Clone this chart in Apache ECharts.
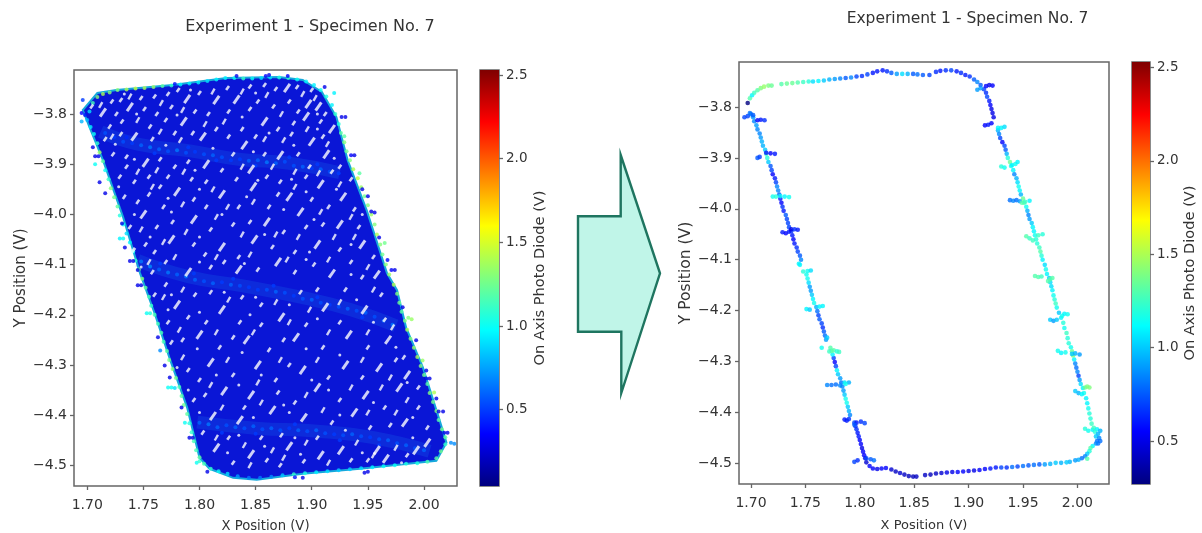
<!DOCTYPE html>
<html><head><meta charset="utf-8">
<style>html,body{margin:0;padding:0;background:#fff}#c{width:1202px;height:533px;filter:blur(0.55px)}</style>
<script src="https://cdn.jsdelivr.net/npm/echarts@6/dist/echarts.min.js"></script>
</head><body><div id="c"></div>
<script>
const chartTitle = 'Experiment 1 - Specimen No. 7';
const xName = 'X Position (V)', yName = 'Y Position (V)', cName = 'On Axis Photo Diode (V)';
const xTicks = [1.70,1.75,1.80,1.85,1.90,1.95,2.00];
const yTicks = [-3.8,-3.9,-4.0,-4.1,-4.2,-4.3,-4.4,-4.5];
const cTicksLeft = [0.5,1.0,1.5,2.0,2.5];
const cTicksRight = [0.5,1.0,1.5,2.0,2.5];
const jet = ['#00007f','#0000ff','#007fff','#00ffff','#7fff7f','#ffff00','#ff7f00','#ff0000','#7f0000'];

// Left panel: extent of the dense scan
const scanOutline = [[1.696,-3.792],[1.709,-3.758],[1.726,-3.752],[1.776,-3.742],[1.824,-3.728],[1.871,-3.726],[1.892,-3.732],[1.909,-3.756],[1.922,-3.806],[1.932,-3.892],[1.949,-3.992],[1.967,-4.117],[1.976,-4.151],[1.984,-4.225],[1.999,-4.305],[2.014,-4.411],[2.020,-4.455],[2.011,-4.491],[1.943,-4.507],[1.892,-4.517],[1.851,-4.529],[1.830,-4.525],[1.809,-4.507],[1.800,-4.485],[1.789,-4.385],[1.774,-4.291],[1.760,-4.197],[1.747,-4.117],[1.732,-4.006],[1.714,-3.892],[1.702,-3.826]];

const scanEdge = [[1.700,-3.812,.8],[1.702,-3.795,.9],[1.705,-3.778,1.15],[1.709,-3.766,1.3],[1.714,-3.760,1.4],[1.720,-3.757,1.3],[1.727,-3.752,1.3],[1.735,-3.751,1.4],[1.743,-3.749,1.45],[1.751,-3.748,1.4],[1.759,-3.746,1.35],[1.767,-3.744,1.2],[1.775,-3.743,1.1],[1.783,-3.741,.95],[1.791,-3.739,.95],[1.799,-3.737,.95],[1.807,-3.734,.9],[1.815,-3.731,.95],[1.823,-3.728,.95],[1.831,-3.728,1.0],[1.839,-3.729,1.1],[1.847,-3.729,1.0],[1.855,-3.728,.9],[1.863,-3.727,.9],[1.871,-3.727,1.05],[1.879,-3.728,1.1],[1.887,-3.731,1.0],[1.895,-3.735,.95],[1.902,-3.742,.95],[1.908,-3.752,1.0],[1.913,-3.765,1.05],[1.918,-3.782,.95],[1.921,-3.800,1.1],[1.924,-3.820,1.05],[1.926,-3.838,1.2],[1.929,-3.856,1.3],[1.931,-3.874,1.25],[1.934,-3.892,1.3],[1.937,-3.910,1.4],[1.941,-3.928,1.45],[1.944,-3.946,1.35],[1.947,-3.964,1.25],[1.950,-3.982,1.3],[1.953,-4.000,1.35],[1.956,-4.020,1.3],[1.958,-4.040,1.4],[1.961,-4.060,1.3],[1.963,-4.080,1.25],[1.966,-4.100,1.3],[1.969,-4.120,1.35],[1.973,-4.140,1.4],[1.976,-4.158,1.3],[1.978,-4.176,1.25],[1.980,-4.194,1.2],[1.983,-4.212,1.3],[1.985,-4.230,1.4],[1.988,-4.248,1.3],[1.991,-4.266,1.35],[1.994,-4.284,1.4],[1.997,-4.302,1.3],[2.000,-4.320,1.25],[2.003,-4.338,1.2],[2.005,-4.356,1.3],[2.008,-4.374,1.25],[2.011,-4.392,1.3],[2.013,-4.410,1.2],[2.016,-4.428,1.25],[2.019,-4.444,1.2],[2.019,-4.458,1.1],[2.015,-4.472,1.25],[2.011,-4.486,1.2],[2.003,-4.493,1.15],[1.994,-4.496,1.05],[1.984,-4.497,1.05],[1.974,-4.500,1.0],[1.964,-4.502,1.0],[1.954,-4.504,.95],[1.944,-4.506,.9],[1.934,-4.508,.85],[1.924,-4.510,.85],[1.914,-4.512,.9],[1.904,-4.514,.95],[1.894,-4.516,1.05],[1.884,-4.518,1.1],[1.874,-4.520,.85],[1.864,-4.523,.7],[1.854,-4.525,.65],[1.844,-4.525,.65],[1.834,-4.522,.75],[1.825,-4.517,.9],[1.817,-4.512,1.0],[1.810,-4.507,1.1],[1.804,-4.497,1.15],[1.800,-4.484,1.2],[1.797,-4.470,1.15],[1.795,-4.452,1.15],[1.793,-4.434,1.1],[1.791,-4.416,1.05],[1.789,-4.398,1.2],[1.786,-4.380,1.25],[1.784,-4.362,1.2],[1.782,-4.344,1.15],[1.779,-4.326,1.25],[1.776,-4.308,1.3],[1.773,-4.290,1.25],[1.771,-4.272,1.2],[1.768,-4.254,1.15],[1.766,-4.236,1.15],[1.763,-4.218,1.15],[1.760,-4.200,1.15],[1.757,-4.182,1.1],[1.755,-4.164,1.15],[1.752,-4.146,1.2],[1.749,-4.128,1.3],[1.746,-4.110,1.25],[1.743,-4.092,1.1],[1.741,-4.074,1.0],[1.738,-4.056,.95],[1.735,-4.038,.9],[1.732,-4.020,1.0],[1.729,-4.002,1.05],[1.727,-3.984,1.2],[1.724,-3.966,1.25],[1.721,-3.948,1.3],[1.719,-3.930,1.1],[1.716,-3.912,1.0],[1.714,-3.894,1.2],[1.711,-3.876,1.35],[1.709,-3.858,1.1],[1.706,-3.840,1.0],[1.703,-3.826,.95]];

const scanOutliers = [[1.9266,-3.806,.3],[1.930,-3.806,.3],[1.938,-3.882,.3],[1.935,-3.882,.35],[1.945,-3.950,.3],[1.950,-3.964,.3],[1.956,-3.996,.3],[1.953,-3.994,.3],[1.960,-4.046,.3],[1.9675,-4.091,.35],[1.974,-4.111,.3],[1.971,-4.111,.35],[1.929,-3.844,1.2],[1.9425,-3.918,1.2],[1.965,-4.057,1.25],[1.981,-4.185,.3],[1.989,-4.209,1.35],[1.986,-4.206,1.3],[1.993,-4.251,.3],[1.9987,-4.291,1.35],[2.002,-4.311,.3],[2.005,-4.327,.3],[2.002,-4.327,.3],[2.009,-4.355,1.4],[2.011,-4.367,.3],[2.017,-4.393,.3],[2.013,-4.393,.3],[2.021,-4.435,.3],[2.018,-4.435,.3],[2.027,-4.457,.7],[2.024,-4.455,.7],[1.833,-3.724,.3],[1.862,-3.722,.3],[1.859,-3.724,.35],[1.778,-3.740,.4],[1.696,-3.772,.5],[1.695,-3.798,.35],[1.698,-3.802,.4],[1.695,-3.815,.8],[1.8786,-3.724,.35],[1.9115,-3.746,.3],[1.920,-3.758,.95],[1.705,-3.866,.3],[1.707,-3.884,.3],[1.710,-3.884,.3],[1.707,-3.900,1.0],[1.711,-3.936,.3],[1.716,-3.958,.3],[1.731,-4.018,.3],[1.729,-4.048,.95],[1.732,-4.048,1.0],[1.7335,-4.066,.3],[1.738,-4.093,.3],[1.741,-4.093,.3],[1.745,-4.111,.3],[1.745,-4.141,.3],[1.748,-4.141,.3],[1.753,-4.197,1.0],[1.756,-4.197,1.05],[1.763,-4.245,.3],[1.765,-4.271,.7],[1.769,-4.301,.3],[1.7735,-4.325,.3],[1.772,-4.345,1.0],[1.775,-4.345,1.0],[1.778,-4.346,.9],[1.784,-4.385,.3],[1.787,-4.415,1.0],[1.791,-4.445,.3],[1.794,-4.445,.3],[1.7975,-4.495,1.0],[1.800,-4.492,1.1],[1.807,-4.513,.3],[1.947,-4.515,.3],[1.950,-4.513,.3],[1.892,-4.525,.3],[1.885,-4.524,.4]];

const scanBands = [[1.716,-3.838,.55],[1.724,-3.846,.5],[1.732,-3.855,.55],[1.740,-3.858,.5],[1.748,-3.862,.6],[1.756,-3.866,.65],[1.764,-3.870,.6],[1.772,-3.874,.55],[1.780,-3.872,.65],[1.788,-3.877,.55],[1.796,-3.875,.5],[1.804,-3.880,.55],[1.812,-3.882,.6],[1.820,-3.886,.55],[1.828,-3.892,.5],[1.836,-3.890,.5],[1.844,-3.893,.6],[1.852,-3.892,.6],[1.860,-3.896,.65],[1.868,-3.898,.6],[1.876,-3.895,.55],[1.884,-3.903,.55],[1.892,-3.905,.6],[1.900,-3.908,.5],[1.908,-3.910,.6],[1.916,-3.915,.55],[1.924,-3.918,.5],[1.735,-3.846,.45],[1.760,-3.878,.5],[1.790,-3.866,.5],[1.815,-3.892,.5],[1.850,-3.903,.5],[1.880,-3.886,.5],[1.905,-3.900,.5],
[1.748,-4.094,.65],[1.756,-4.104,.7],[1.764,-4.110,.6],[1.772,-4.116,.65],[1.780,-4.120,.6],[1.788,-4.124,.65],[1.796,-4.130,.6],[1.804,-4.133,.55],[1.812,-4.137,.6],[1.820,-4.135,.5],[1.828,-4.140,.6],[1.836,-4.142,.55],[1.844,-4.145,.5],[1.852,-4.150,.5],[1.860,-4.150,.55],[1.868,-4.154,.6],[1.876,-4.156,.55],[1.884,-4.162,.5],[1.892,-4.168,.55],[1.900,-4.170,.6],[1.908,-4.176,.55],[1.916,-4.180,.5],[1.924,-4.184,.55],[1.932,-4.188,.6],[1.940,-4.192,.55],[1.948,-4.196,.6],[1.956,-4.204,.55],[1.964,-4.212,.6],[1.972,-4.220,.65],[1.765,-4.098,.5],[1.795,-4.118,.5],[1.830,-4.128,.5],[1.866,-4.142,.5],[1.905,-4.165,.5],[1.945,-4.205,.5],
[1.800,-4.415,.6],[1.808,-4.418,.65],[1.816,-4.424,.6],[1.824,-4.420,.55],[1.832,-4.424,.6],[1.840,-4.426,.55],[1.848,-4.422,.6],[1.856,-4.428,.55],[1.864,-4.426,.6],[1.872,-4.430,.55],[1.880,-4.426,.5],[1.888,-4.430,.6],[1.896,-4.432,.55],[1.904,-4.430,.6],[1.912,-4.436,.55],[1.920,-4.438,.5],[1.928,-4.440,.55],[1.936,-4.438,.6],[1.944,-4.442,.55],[1.952,-4.444,.5],[1.960,-4.448,.55],[1.968,-4.450,.6],[1.976,-4.456,.55],[1.984,-4.460,.6],[1.992,-4.466,.55],[2.000,-4.470,.6],[1.820,-4.435,.5],[1.850,-4.437,.5],[1.885,-4.418,.5],[1.925,-4.450,.5],[1.960,-4.460,.5]];

const bandUpper = [[1.712,-3.835],[1.745,-3.860],[1.790,-3.873],[1.835,-3.890],[1.880,-3.898],[1.925,-3.917]];
const bandMiddle = [[1.745,-4.092],[1.790,-4.124],[1.840,-4.143],[1.890,-4.165],[1.935,-4.190],[1.975,-4.222]];
const bandLower = [[1.798,-4.414],[1.850,-4.426],[1.905,-4.432],[1.955,-4.445],[2.005,-4.472]];

const longFlecks = [[1.714,-3.797],[1.738,-3.786],[1.789,-3.770],[1.815,-3.772],[1.833,-3.771],[1.878,-3.748],[1.897,-3.780],[1.906,-3.785],[1.742,-3.845],[1.786,-3.815],[1.803,-3.845],[1.840,-3.862],[1.895,-3.805],[1.918,-3.830],[1.858,-3.815],[1.900,-3.855],[1.752,-3.897],[1.806,-3.900],[1.846,-3.910],[1.872,-3.882],[1.913,-3.880],[1.780,-3.955],[1.820,-3.960],[1.848,-3.945],[1.880,-3.965],[1.908,-3.940],[1.928,-3.965],[1.750,-4.000],[1.795,-4.010],[1.860,-4.015],[1.890,-3.995],[1.925,-4.020],[1.740,-4.075],[1.775,-4.050],[1.820,-4.065],[1.849,-4.050],[1.905,-4.060],[1.945,-4.060],[1.790,-4.115],[1.835,-4.110],[1.870,-4.095],[1.918,-4.118],[1.958,-4.120],[1.780,-4.180],[1.820,-4.190],[1.873,-4.205],[1.912,-4.185],[1.947,-4.190],[1.800,-4.240],[1.842,-4.250],[1.886,-4.245],[1.933,-4.240],[1.968,-4.250],[1.810,-4.295],[1.852,-4.300],[1.892,-4.310],[1.930,-4.300],[1.960,-4.305],[1.985,-4.320],[1.822,-4.352],[1.846,-4.360],[1.905,-4.345],[1.948,-4.360],[1.978,-4.345],[1.812,-4.402],[1.836,-4.410],[1.865,-4.390],[1.893,-4.405],[1.938,-4.395],[1.983,-4.415],[1.815,-4.465],[1.846,-4.478],[1.880,-4.462],[1.908,-4.480],[1.926,-4.470],[1.958,-4.470],[1.966,-4.487],[1.993,-4.470],[2.003,-4.455]];

const shortFlecks = [[1.704,-3.785],[1.722,-3.775],[1.730,-3.772],[1.748,-3.768],[1.760,-3.765],[1.772,-3.760],[1.781,-3.752],[1.800,-3.758],[1.825,-3.748],[1.845,-3.745],[1.858,-3.742],[1.868,-3.750],[1.887,-3.746],[1.900,-3.752],[1.726,-3.800],[1.731,-3.815],[1.720,-3.825],[1.751,-3.790],[1.762,-3.800],[1.775,-3.786],[1.770,-3.812],[1.796,-3.795],[1.808,-3.800],[1.826,-3.795],[1.845,-3.790],[1.852,-3.775],[1.866,-3.785],[1.880,-3.775],[1.888,-3.795],[1.912,-3.800],[1.908,-3.815],[1.716,-3.850],[1.730,-3.840],[1.756,-3.825],[1.758,-3.850],[1.778,-3.838],[1.794,-3.838],[1.815,-3.830],[1.826,-3.845],[1.838,-3.830],[1.850,-3.845],[1.870,-3.830],[1.882,-3.840],[1.884,-3.818],[1.910,-3.845],[1.723,-3.880],[1.735,-3.885],[1.735,-3.905],[1.765,-3.890],[1.778,-3.905],[1.790,-3.895],[1.820,-3.912],[1.830,-3.880],[1.858,-3.880],[1.888,-3.880],[1.898,-3.905],[1.925,-3.905],[1.729,-3.925],[1.742,-3.935],[1.755,-3.925],[1.765,-3.945],[1.772,-3.925],[1.793,-3.930],[1.806,-3.935],[1.833,-3.930],[1.860,-3.925],[1.872,-3.935],[1.895,-3.925],[1.918,-3.915],[1.935,-3.930],[1.733,-3.965],[1.745,-3.975],[1.755,-3.960],[1.768,-3.985],[1.795,-3.970],[1.806,-3.985],[1.835,-3.985],[1.862,-3.985],[1.870,-3.960],[1.900,-3.970],[1.915,-3.985],[1.938,-3.990],[1.738,-4.025],[1.762,-4.025],[1.776,-4.015],[1.810,-4.030],[1.830,-4.020],[1.845,-4.015],[1.875,-4.035],[1.895,-4.025],[1.910,-4.020],[1.942,-4.025],[1.752,-4.060],[1.760,-4.075],[1.795,-4.060],[1.805,-4.080],[1.835,-4.085],[1.865,-4.065],[1.885,-4.075],[1.925,-4.070],[1.955,-4.085],[1.758,-4.115],[1.770,-4.095],[1.810,-4.105],[1.822,-4.095],[1.852,-4.110],[1.885,-4.115],[1.902,-4.100],[1.935,-4.095],[1.945,-4.125],[1.760,-4.160],[1.770,-4.140],[1.796,-4.160],[1.810,-4.155],[1.838,-4.165],[1.855,-4.180],[1.890,-4.155],[1.905,-4.150],[1.930,-4.150],[1.962,-4.160],[1.772,-4.215],[1.790,-4.205],[1.806,-4.215],[1.836,-4.215],[1.855,-4.220],[1.895,-4.220],[1.925,-4.215],[1.965,-4.210],[1.775,-4.255],[1.785,-4.250],[1.818,-4.265],[1.830,-4.245],[1.862,-4.270],[1.875,-4.250],[1.910,-4.265],[1.950,-4.265],[1.982,-4.285],[1.790,-4.310],[1.800,-4.330],[1.830,-4.320],[1.868,-4.330],[1.880,-4.300],[1.915,-4.325],[1.945,-4.325],[1.975,-4.290],[1.995,-4.345],[1.795,-4.370],[1.805,-4.360],[1.840,-4.385],[1.870,-4.355],[1.885,-4.375],[1.925,-4.370],[1.965,-4.385],[1.995,-4.385],[1.803,-4.435],[1.826,-4.445],[1.855,-4.445],[1.873,-4.440],[1.905,-4.445],[1.918,-4.415],[1.952,-4.425],[1.970,-4.420],[2.003,-4.425],[1.830,-4.495],[1.860,-4.490],[1.872,-4.500],[1.893,-4.492],[1.935,-4.490],[1.950,-4.490],[1.985,-4.480]];

const midFlecks = [[1.712,-3.782],[1.738,-3.765],[1.766,-3.778],[1.785,-3.792],[1.812,-3.755],[1.838,-3.755],[1.860,-3.762],[1.873,-3.800],[1.892,-3.760],[1.903,-3.768],[1.722,-3.845],[1.745,-3.812],[1.765,-3.835],[1.783,-3.852],[1.805,-3.820],[1.822,-3.815],[1.858,-3.850],[1.875,-3.852],[1.896,-3.830],[1.914,-3.860],[1.745,-3.915],[1.762,-3.912],[1.786,-3.915],[1.812,-3.950],[1.838,-3.905],[1.865,-3.905],[1.885,-3.915],[1.906,-3.918],[1.925,-3.940],[1.758,-3.945],[1.785,-3.980],[1.825,-3.985],[1.848,-3.975],[1.885,-3.945],[1.908,-3.995],[1.935,-4.005],[1.748,-4.030],[1.768,-4.055],[1.788,-4.035],[1.815,-4.005],[1.838,-4.040],[1.868,-4.040],[1.888,-4.045],[1.920,-4.045],[1.938,-4.045],[1.755,-4.095],[1.778,-4.085],[1.815,-4.085],[1.845,-4.080],[1.878,-4.090],[1.915,-4.090],[1.950,-4.105],[1.768,-4.165],[1.785,-4.150],[1.826,-4.170],[1.868,-4.175],[1.898,-4.190],[1.925,-4.175],[1.955,-4.150],[1.782,-4.230],[1.815,-4.235],[1.848,-4.235],[1.880,-4.215],[1.915,-4.235],[1.950,-4.235],[1.972,-4.225],[1.785,-4.285],[1.825,-4.290],[1.872,-4.290],[1.905,-4.290],[1.945,-4.290],[1.970,-4.325],[1.810,-4.340],[1.852,-4.335],[1.895,-4.360],[1.935,-4.345],[1.962,-4.345],[1.985,-4.370],[1.820,-4.385],[1.855,-4.375],[1.910,-4.390],[1.950,-4.395],[1.975,-4.395],[1.815,-4.445],[1.840,-4.460],[1.865,-4.470],[1.895,-4.455],[1.940,-4.455],[1.975,-4.465],[1.845,-4.500],[1.875,-4.485],[1.915,-4.495],[1.955,-4.480]];

const roundFlecks = [[1.733,-3.760],[1.792,-3.752],[1.850,-3.758],[1.905,-3.800],[1.744,-3.800],[1.780,-3.802],[1.838,-3.806],[1.862,-3.838],[1.905,-3.830],[1.725,-3.860],[1.770,-3.862],[1.812,-3.868],[1.848,-3.875],[1.884,-3.862],[1.920,-3.888],[1.742,-3.890],[1.796,-3.912],[1.852,-3.932],[1.882,-3.930],[1.728,-3.945],[1.772,-3.968],[1.800,-3.950],[1.842,-3.965],[1.895,-3.955],[1.922,-3.950],[1.742,-4.000],[1.775,-3.995],[1.820,-4.000],[1.875,-3.990],[1.902,-4.010],[1.945,-4.000],[1.756,-4.045],[1.800,-4.045],[1.858,-4.040],[1.898,-4.075],[1.935,-4.060],[1.748,-4.105],[1.800,-4.095],[1.840,-4.098],[1.895,-4.090],[1.935,-4.120],[1.775,-4.160],[1.822,-4.155],[1.850,-4.165],[1.880,-4.180],[1.940,-4.170],[1.772,-4.190],[1.800,-4.195],[1.845,-4.200],[1.905,-4.208],[1.955,-4.215],[1.798,-4.268],[1.838,-4.275],[1.895,-4.268],[1.925,-4.280],[1.975,-4.265],[1.780,-4.305],[1.815,-4.320],[1.855,-4.320],[1.900,-4.330],[1.985,-4.335],[1.790,-4.350],[1.835,-4.340],[1.875,-4.380],[1.915,-4.350],[1.955,-4.375],[1.800,-4.395],[1.848,-4.405],[1.880,-4.395],[1.925,-4.400],[1.990,-4.405],[1.835,-4.440],[1.885,-4.445],[1.930,-4.430],[1.990,-4.445],[1.825,-4.475],[1.858,-4.462],[1.890,-4.478],[1.945,-4.475],[1.980,-4.495]];

// Right panel: the retained edge points
const edgeTop = [[1.697,-3.792,.27],[1.699,-3.783,1.3],[1.701,-3.777,1.1],[1.703,-3.772,1.25],[1.706,-3.767,1.3],[1.709,-3.763,1.4],[1.712,-3.760,1.45],[1.716,-3.758,1.4],[1.719,-3.758,1.35],[1.728,-3.755,1.3],[1.733,-3.754,1.35],[1.738,-3.753,1.35],[1.743,-3.752,1.3],[1.748,-3.751,1.25],[1.753,-3.750,1.2],[1.757,-3.750,1.05],[1.762,-3.749,1.1],[1.767,-3.748,1.0],[1.772,-3.746,.95],[1.777,-3.745,.9],[1.782,-3.744,.85],[1.787,-3.743,.75],[1.792,-3.742,.85],[1.797,-3.740,.7],[1.802,-3.739,.65],[1.807,-3.736,.7],[1.812,-3.733,.6],[1.816,-3.730,.6],[1.821,-3.728,.6],[1.825,-3.730,.65],[1.829,-3.733,.75],[1.834,-3.735,.9],[1.839,-3.735,1.05],[1.844,-3.735,.95],[1.849,-3.735,.75],[1.853,-3.736,.8],[1.858,-3.737,.75],[1.864,-3.737,.7],[1.870,-3.731,.65],[1.874,-3.729,.6],[1.879,-3.728,.65],[1.884,-3.728,.7],[1.889,-3.730,.6],[1.893,-3.733,.65],[1.897,-3.737,.6],[1.901,-3.740,.65],[1.905,-3.746,.75],[1.908,-3.751,.85],[1.911,-3.757,.75],[1.914,-3.765,.7],[1.916,-3.772,.65],[1.917,-3.780,.7],[1.919,-3.788,.6],[1.920,-3.796,.55],[1.921,-3.804,.5],[1.922,-3.812,.5],[1.923,-3.820,.5]];
const edgeTopBits = [[1.908,-3.766,.9],[1.911,-3.763,.9],[1.916,-3.759,.55],[1.919,-3.757,.5],[1.922,-3.758,.55],[1.915,-3.836,.55],[1.918,-3.835,.6],[1.921,-3.832,.55]];
const edgeRight = [[1.927,-3.846,.95],[1.928,-3.853,.85],[1.929,-3.861,.7],[1.931,-3.869,.55],[1.933,-3.876,.7],[1.934,-3.884,.75],[1.935,-3.892,.95],[1.936,-3.900,1.2],[1.938,-3.908,1.35],[1.939,-3.916,1.15],[1.941,-3.924,1.1],[1.942,-3.932,.85],[1.944,-3.940,.95],[1.945,-3.948,1.05],[1.946,-3.956,1.15],[1.947,-3.964,1.1],[1.948,-3.972,.95],[1.950,-3.980,1.35],[1.951,-3.988,1.3],[1.953,-3.996,1.15],[1.954,-4.004,.95],[1.955,-4.012,.85],[1.956,-4.020,.9],[1.958,-4.028,1.0],[1.959,-4.036,1.1],[1.960,-4.044,1.1],[1.961,-4.052,1.15],[1.962,-4.060,1.2],[1.963,-4.068,1.2],[1.965,-4.076,1.25],[1.966,-4.084,1.3],[1.967,-4.092,1.2],[1.968,-4.100,1.1],[1.970,-4.110,1.05],[1.971,-4.119,1.15],[1.972,-4.128,1.1],[1.974,-4.136,1.0],[1.975,-4.144,1.05],[1.976,-4.152,1.05],[1.977,-4.160,1.1],[1.978,-4.170,1.15],[1.979,-4.178,1.2],[1.980,-4.186,1.25],[1.981,-4.194,1.15],[1.983,-4.204,1.0],[1.985,-4.214,1.1],[1.987,-4.224,1.2],[1.988,-4.234,1.15],[1.990,-4.244,1.25],[1.991,-4.254,1.2],[1.992,-4.264,1.2],[1.994,-4.272,1.15],[1.995,-4.280,1.35],[1.996,-4.288,1.4],[1.997,-4.296,1.1],[1.998,-4.304,.85],[1.999,-4.312,.8],[2.000,-4.320,.85],[2.001,-4.328,.7],[2.002,-4.336,.9],[2.003,-4.344,1.05],[2.005,-4.352,1.1],[2.006,-4.362,1.15],[2.008,-4.372,1.1],[2.009,-4.382,1.1],[2.010,-4.392,1.15],[2.011,-4.402,1.2],[2.012,-4.412,1.2],[2.013,-4.422,1.25]];
const edgeRightBits = [[1.927,-3.841,1.1],[1.930,-3.841,1.1],[1.933,-3.839,1.05],[1.930,-3.917,1.2],[1.933,-3.919,1.15],[1.940,-3.914,1.1],[1.943,-3.912,1.15],[1.945,-3.908,1.1],[1.938,-3.983,.8],[1.941,-3.984,.85],[1.944,-3.983,.8],[1.947,-3.985,.9],[1.949,-3.988,1.3],[1.952,-3.986,1.25],[1.956,-3.984,1.1],[1.953,-4.054,1.3],[1.956,-4.058,1.25],[1.959,-4.062,1.25],[1.964,-4.052,1.25],[1.968,-4.050,1.2],[1.961,-4.132,1.3],[1.964,-4.134,1.3],[1.967,-4.133,1.25],[1.973,-4.142,1.3],[1.975,-4.138,1.3],[1.977,-4.136,1.3],[1.975,-4.218,1.0],[1.978,-4.220,.9],[1.981,-4.218,1.0],[1.986,-4.210,1.15],[1.988,-4.206,1.1],[1.991,-4.207,1.15],[1.982,-4.279,1.15],[1.985,-4.283,1.1],[1.989,-4.282,1.15],[1.995,-4.285,1.0],[1.998,-4.284,.95],[2.002,-4.286,.9],[1.998,-4.358,1.0],[2.001,-4.362,.95],[2.004,-4.364,1.1],[2.007,-4.351,1.35],[2.009,-4.349,1.4],[2.011,-4.351,1.4],[2.007,-4.432,1.2],[2.010,-4.436,1.15],[2.014,-4.434,1.1]];
const edgeCorner = [[2.015,-4.430,1.25],[2.018,-4.433,1.1],[2.021,-4.436,.95],[2.016,-4.438,1.2],[2.019,-4.442,.95],[2.017,-4.447,1.0],[2.020,-4.450,.85],[2.018,-4.456,.8],[2.021,-4.456,.8],[2.019,-4.461,.8],[2.017,-4.461,.85],[2.014,-4.466,1.1],[2.012,-4.470,1.3],[2.011,-4.476,1.2],[2.009,-4.481,1.0],[2.007,-4.486,.85],[2.004,-4.490,.8],[2.001,-4.493,.95],[2.009,-4.491,1.3],[1.998,-4.494,.9]];
const edgeBottom = [[1.993,-4.497,.95],[1.990,-4.498,1.0],[1.985,-4.499,.95],[1.980,-4.499,1.0],[1.975,-4.501,.95],[1.970,-4.502,.9],[1.965,-4.502,.75],[1.960,-4.503,.8],[1.955,-4.504,.75],[1.950,-4.505,.8],[1.945,-4.506,.7],[1.940,-4.507,.8],[1.935,-4.508,.65],[1.930,-4.508,.7],[1.925,-4.508,.6],[1.920,-4.510,.6],[1.915,-4.511,.55],[1.910,-4.513,.55],[1.905,-4.514,.5],[1.900,-4.515,.5],[1.895,-4.516,.55],[1.890,-4.517,.55],[1.885,-4.517,.5],[1.880,-4.518,.5],[1.875,-4.519,.45],[1.870,-4.520,.42],[1.865,-4.522,.4],[1.860,-4.523,.42],[1.852,-4.526,.42],[1.849,-4.526,.4],[1.845,-4.525,.4],[1.841,-4.522,.42],[1.837,-4.519,.45],[1.833,-4.516,.42],[1.829,-4.512,.45],[1.824,-4.509,.55],[1.820,-4.510,.55],[1.816,-4.511,.5],[1.812,-4.510,.55],[1.809,-4.505,.55],[1.806,-4.498,.45],[1.805,-4.490,.5],[1.804,-4.484,.55],[1.803,-4.477,.55],[1.802,-4.470,.5],[1.801,-4.462,.55],[1.800,-4.454,.55],[1.799,-4.447,.6],[1.798,-4.440,.6],[1.797,-4.433,.65],[1.796,-4.427,.65],[1.795,-4.420,.7]];
const edgeLeft = [[1.791,-4.405,.85],[1.790,-4.397,.95],[1.789,-4.389,1.0],[1.788,-4.381,1.15],[1.787,-4.373,1.15],[1.786,-4.365,1.0],[1.785,-4.357,.9],[1.784,-4.349,.85],[1.783,-4.341,.8],[1.782,-4.333,.9],[1.780,-4.325,1.0],[1.779,-4.317,1.1],[1.778,-4.309,.7],[1.777,-4.301,.55],[1.776,-4.293,.7],[1.775,-4.286,1.1],[1.774,-4.279,1.35],[1.773,-4.273,1.3],[1.769,-4.257,.9],[1.768,-4.249,.8],[1.767,-4.241,.75],[1.766,-4.233,.65],[1.765,-4.225,.7],[1.763,-4.217,.75],[1.762,-4.209,.7],[1.761,-4.201,.8],[1.760,-4.193,.95],[1.758,-4.185,1.15],[1.757,-4.177,1.1],[1.756,-4.169,1.0],[1.755,-4.161,.9],[1.754,-4.153,.9],[1.753,-4.145,1.05],[1.752,-4.137,1.15],[1.751,-4.129,1.15],[1.745,-4.110,1.1],[1.746,-4.100,.85],[1.745,-4.092,.75],[1.743,-4.084,.7],[1.742,-4.076,.65],[1.740,-4.068,.6],[1.739,-4.060,.55],[1.738,-4.052,.6],[1.737,-4.044,.65],[1.735,-4.036,.7],[1.734,-4.028,.7],[1.733,-4.020,.7],[1.732,-4.012,.75],[1.730,-4.004,.6],[1.729,-3.996,.65],[1.728,-3.988,.55],[1.727,-3.980,.6],[1.726,-3.972,.75],[1.725,-3.964,.85],[1.724,-3.956,.85],[1.723,-3.948,.7],[1.722,-3.940,.6],[1.720,-3.932,.55],[1.719,-3.924,.7],[1.718,-3.916,.75],[1.716,-3.908,1.0],[1.715,-3.900,1.2],[1.714,-3.892,1.25],[1.713,-3.884,1.0],[1.711,-3.876,.95],[1.710,-3.868,.95],[1.709,-3.860,.9],[1.708,-3.852,.85],[1.706,-3.844,.85],[1.705,-3.836,.9],[1.703,-3.828,.85],[1.702,-3.820,.9],[1.700,-3.814,.85]];
const edgeLeftBits = [[1.770,-4.253,1.0],[1.765,-4.273,1.15],[1.772,-4.280,1.25],[1.776,-4.278,1.3],[1.779,-4.280,1.2],[1.781,-4.281,1.25],[1.751,-4.197,1.1],[1.754,-4.198,1.0],[1.763,-4.192,1.1],[1.766,-4.191,1.1],[1.744,-4.108,1.1],[1.748,-4.123,1.2],[1.752,-4.122,1.15],[1.755,-4.121,1.05],[1.729,-4.046,.6],[1.732,-4.048,.55],[1.735,-4.045,.6],[1.737,-4.040,.5],[1.740,-4.040,.65],[1.743,-4.041,.6],[1.720,-3.976,1.15],[1.723,-3.976,1.2],[1.727,-3.975,1.1],[1.731,-3.976,1.1],[1.735,-3.977,1.15],[1.706,-3.900,.75],[1.708,-3.898,.7],[1.714,-3.890,.6],[1.718,-3.891,.55],[1.722,-3.892,.6],[1.706,-3.826,.55],[1.709,-3.825,.6],[1.7125,-3.826,.65],[1.694,-3.820,.7],[1.697,-3.818,.7],[1.699,-3.812,.8],[1.702,-3.816,.75],
[1.770,-4.346,.85],[1.774,-4.346,.8],[1.778,-4.345,.8],[1.782,-4.347,.85],[1.786,-4.341,1.05],[1.790,-4.341,.95],[1.787,-4.344,1.15],[1.786,-4.414,.6],[1.788,-4.416,.6],[1.790,-4.413,.65],[1.797,-4.420,.6],[1.801,-4.418,.65],[1.8045,-4.421,.7],[1.795,-4.424,.75],[1.795,-4.497,.7],[1.798,-4.494,.65],[1.806,-4.490,.7],[1.810,-4.492,.75],[1.813,-4.494,.8]];

const leftEdges = scanBands.concat(scanEdge, scanOutliers);
const rightEdges = [].concat(edgeTop, edgeTopBits, edgeRight, edgeRightBits, edgeCorner, edgeBottom, edgeLeft, edgeLeftBits);

const chart = echarts.init(document.getElementById('c'));
const FONT = 'DejaVu Sans', INK = '#333', SPINE = '#666';

function panelGrid(l, t, r, b) { return {left:l, top:t, width:r-l, height:b-t, show:true, borderColor:SPINE, borderWidth:1.5, backgroundColor:'transparent', outerBoundsMode:'none', containLabel:false}; }
function valueAxis(min, max, ticks, gridIndex, fontSize, margin, fmt, opt) {
  return Object.assign({type:'value', gridIndex, min, max, splitLine:{show:false}, axisLine:{show:false},
    axisTick:{show:true, length:4, lineStyle:{color:SPINE, width:1.3}, customValues:ticks},
    axisLabel:{customValues:ticks, fontFamily:FONT, fontSize, color:INK, margin, formatter:fmt}}, opt||{});
}
const fmt2 = v=>v.toFixed(2);
const fmt1 = v=>v<0 ? '\u2212'+Math.abs(v).toFixed(1) : v.toFixed(1);
const barFill = new echarts.graphic.LinearGradient(0,1,0,0,jet.map((c,i)=>({offset:i/(jet.length-1), color:c})));
function named(text, gap, size){ return {name:text,nameLocation:'middle',nameGap:gap,nameTextStyle:{fontFamily:FONT,fontSize:size,color:INK}}; }
function bandLine(pts){ return {type:'line',xAxisIndex:0,yAxisIndex:0,data:pts,smooth:true,showSymbol:false,silent:true,z:1,lineStyle:{color:'#1a78ec',width:13,opacity:.22}}; }

chart.setOption({
  animation:false,
  backgroundColor:'#fff',
  title:[
    {text:chartTitle,left:305,top:14,textAlign:'center',textStyle:{fontFamily:FONT,fontSize:16,fontWeight:'normal',color:'#333'}},
    {text:chartTitle,left:962.5,top:6,textAlign:'center',textStyle:{fontFamily:FONT,fontSize:15.5,fontWeight:'normal',color:'#333'}}
  ],
  grid:[panelGrid(74,70,457,486),panelGrid(480,70,499,486),panelGrid(739,62,1109,484),panelGrid(1132,62,1150,484)],
  xAxis:[
    valueAxis(1.6882,2.0294,xTicks,0,14,12,fmt2,named(xName,34,13.2)),
    {type:'category',gridIndex:1,data:['c'],show:false},
    valueAxis(1.689,2.029,xTicks,2,14,12,fmt2,named(xName,35,13)),
    {type:'category',gridIndex:3,data:['c'],show:false}
  ],
  yAxis:[
    valueAxis(-4.5413,-3.7122,yTicks,0,14,7,fmt1,named(yName,43,15)),
    valueAxis(0.044,2.53,cTicksLeft,1,13.5,7,fmt1,Object.assign(named(cName,34,14.6),{position:'right',nameRotate:90})),
    valueAxis(-4.5405,-3.7116,yTicks,2,14,7,fmt1,named(yName,43,15.5)),
    valueAxis(0.27,2.53,cTicksRight,3,13.5,7,fmt1,Object.assign(named(cName,32,14.6),{position:'right',nameRotate:90}))
  ],
  visualMap:[
    {show:false,type:'continuous',seriesIndex:[8],dimension:2,min:0.044,max:2.53,inRange:{color:jet}},
    {show:false,type:'continuous',seriesIndex:[9],dimension:2,min:0.27,max:2.53,inRange:{color:jet}}
  ],
  series:[
    {type:'custom',xAxisIndex:0,yAxisIndex:0,data:[[0,0]],silent:true,z:0,
      renderItem:(p,api)=>({type:'polygon',shape:{points:scanOutline.map(q=>api.coord(q))},style:{fill:'#0a16d6',stroke:'#16a8dc',lineWidth:2}})},
    bandLine(bandUpper),bandLine(bandMiddle),bandLine(bandLower),
    {type:'scatter',xAxisIndex:0,yAxisIndex:0,data:shortFlecks,symbol:'rect',symbolSize:[2.6,5],symbolRotate:-35,itemStyle:{color:'#fff'},z:4,silent:true},
    {type:'scatter',xAxisIndex:0,yAxisIndex:0,data:midFlecks,symbol:'rect',symbolSize:[2.4,6.5],symbolRotate:-30,itemStyle:{color:'#fff'},z:4,silent:true},
    {type:'scatter',xAxisIndex:0,yAxisIndex:0,data:longFlecks,symbol:'rect',symbolSize:[3,10],symbolRotate:-35,itemStyle:{color:'#fff'},z:4,silent:true},
    {type:'scatter',xAxisIndex:0,yAxisIndex:0,data:roundFlecks,symbolSize:3,itemStyle:{color:'#fff'},z:4,silent:true},
    {type:'scatter',xAxisIndex:0,yAxisIndex:0,data:leftEdges,symbolSize:4,z:3,silent:true},
    {type:'scatter',xAxisIndex:2,yAxisIndex:2,data:rightEdges,symbolSize:4.6,z:3,silent:true},
    {type:'bar',xAxisIndex:1,yAxisIndex:1,data:[2.53],barWidth:'100%',itemStyle:{color:barFill},silent:true},
    {type:'bar',xAxisIndex:3,yAxisIndex:3,data:[2.53],barWidth:'100%',itemStyle:{color:barFill},silent:true}
  ],
  graphic:[{type:'polygon',shape:{points:[[620.7,155],[660,273.3],[621.3,393],[621.3,331.7],[578,331.7],[578,216.3],[620.7,216.3]]},style:{fill:'#c0f5e8',stroke:'#1f7560',lineWidth:2.4},silent:true}]
});
</script></body></html>
